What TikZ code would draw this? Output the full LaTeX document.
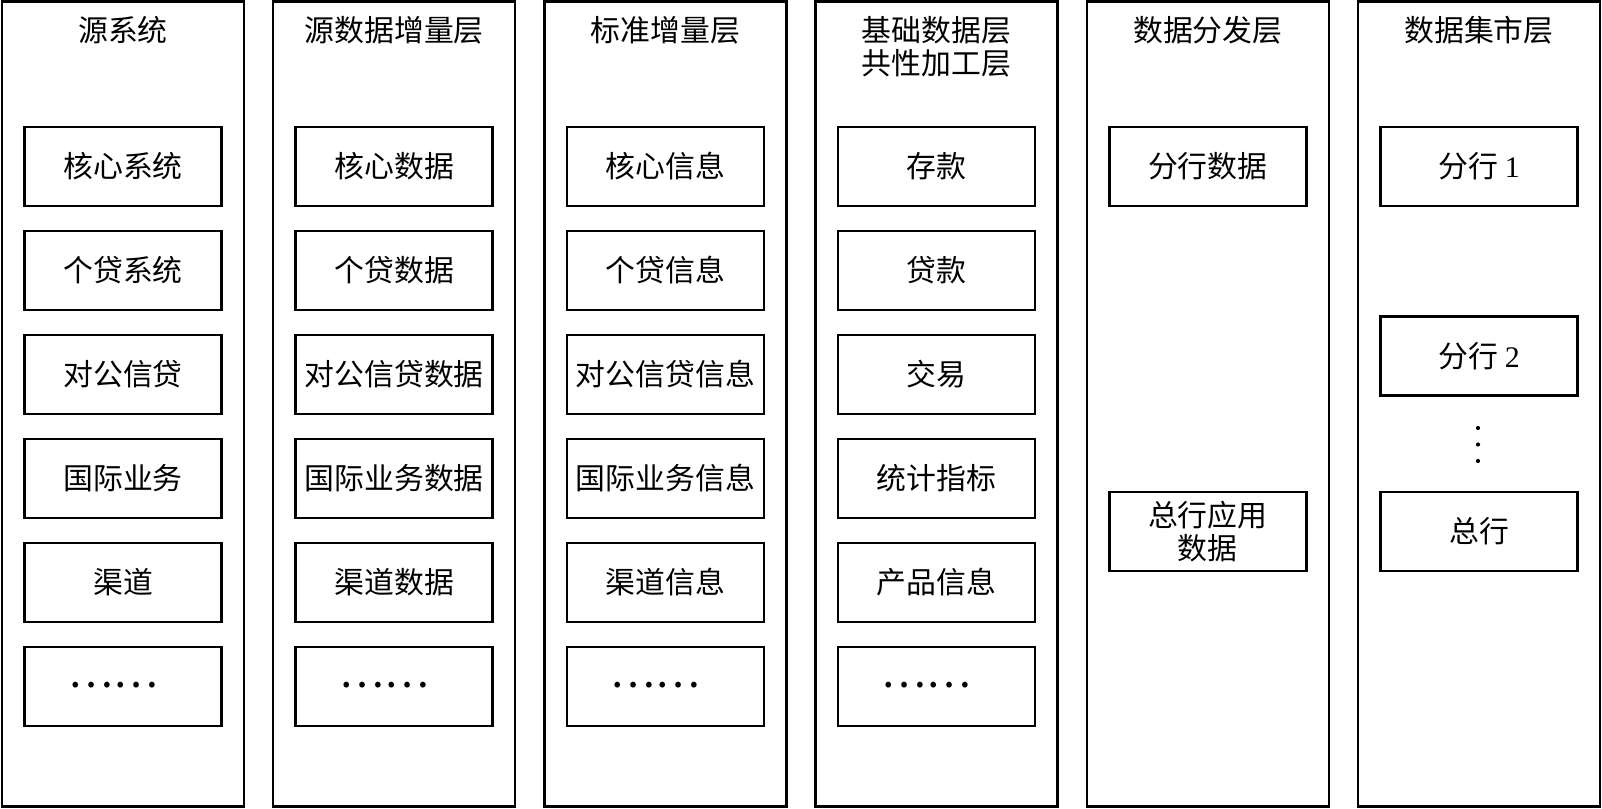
\documentclass[tikz,border=0pt]{standalone}
\usepackage{fontspec}
\setmainfont{Liberation Serif}
\newfontfamily\cjk{Noto Sans CJK SC}
\usetikzlibrary{positioning}
\newcommand{\moredots}{\hspace*{-0.2cm}\raisebox{0.04cm}{……}}

\begin{document}
\begin{tikzpicture}[
  layer/.style={draw, line width=0.7pt, minimum width=2.42cm, minimum height=8.05cm, inner sep=0pt},
  item/.style={draw, line width=0.7pt, minimum width=1.97cm, minimum height=0.79cm, inner sep=0pt,
    font=\cjk\fontsize{8.5}{9.4}\selectfont, align=center},
  more/.style={item, font=\cjk\fontsize{12}{12}\selectfont},
  layertitle/.style={inner sep=0pt, font=\cjk\fontsize{8.5}{9.4}\selectfont, align=center}]
\useasboundingbox (0,0) rectangle (16.02,-8.09);
% Layers with their titles
\foreach \i/\x/\t in {1/1.23/源系统, 2/3.942/源数据增量层, 3/6.654/标准增量层,
    4/9.366/基础数据层\\共性加工层, 5/12.078/数据分发层, 6/14.79/数据集市层} {
  \node[layer] (col\i) at (\x,-4.04) {};
  \node[layertitle, below=0.155cm of col\i.north] (title\i) {\t};
}
% Source systems
\foreach \j/\t in {1/核心系统, 2/个贷系统, 3/对公信贷, 4/国际业务, 5/渠道}
  \node[item] (src\j) at (1.23,{-1.665-(\j-1)*1.04}) {\t};
\node[more] (src6) at (1.23,-6.865) {\moredots};
% Incremental source data
\foreach \j/\t in {1/核心数据, 2/个贷数据, 3/对公信贷数据, 4/国际业务数据, 5/渠道数据}
  \node[item] (inc\j) at (3.942,{-1.665-(\j-1)*1.04}) {\t};
\node[more] (inc6) at (3.942,-6.865) {\moredots};
% Standard increments
\foreach \j/\t in {1/核心信息, 2/个贷信息, 3/对公信贷信息, 4/国际业务信息, 5/渠道信息}
  \node[item] (std\j) at (6.654,{-1.665-(\j-1)*1.04}) {\t};
\node[more] (std6) at (6.654,-6.865) {\moredots};
% Base layer
\foreach \j/\t in {1/存款, 2/贷款, 3/交易, 4/统计指标, 5/产品信息}
  \node[item] (base\j) at (9.366,{-1.665-(\j-1)*1.04}) {\t};
\node[more] (base6) at (9.366,-6.865) {\moredots};
% Distribution layer
\node[item] (dist1) at (12.078,-1.665) {分行数据};
\node[item] (dist2) at (12.078,-5.315) {总行应用\\数据};
% Data marts
\node[item] (mart1) at (14.79,-1.665) {分行 {\rmfamily 1}};
\node[item] (mart2) at (14.79,-3.56) {分行 {\rmfamily 2}};
\node[item] (mart3) at (14.79,-5.315) {总行};
\coordinate (mdots) at (14.78,-4.445);
\foreach \d in {-0.165,0,0.165}
  \fill ([yshift=\d cm]mdots) circle (0.021);
\end{tikzpicture}
\end{document}
